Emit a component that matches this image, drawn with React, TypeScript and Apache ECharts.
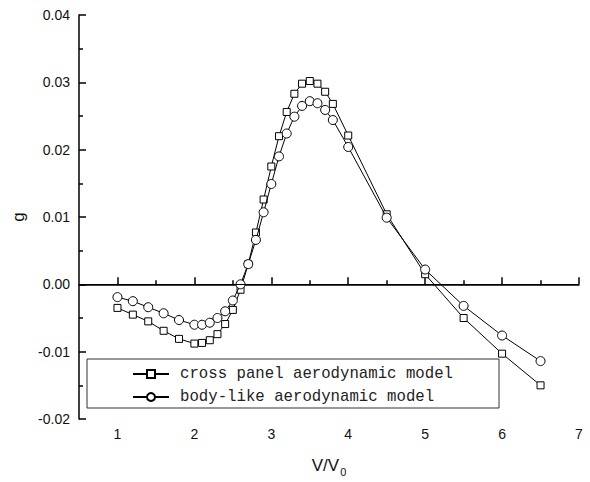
import React, { useEffect, useRef } from "react";
import * as echarts from "echarts";

const xCross = [1.0, 1.2, 1.4, 1.6, 1.8, 2.0, 2.1, 2.2, 2.3, 2.4, 2.5, 2.6, 2.7, 2.8, 2.9, 3.0, 3.1, 3.2, 3.3, 3.4, 3.5, 3.6, 3.7, 3.8, 4.0, 4.5, 5.0, 5.5, 6.0, 6.5];
const gCross = [-0.0035, -0.0045, -0.0055, -0.0069, -0.0081, -0.0088, -0.0087, -0.0083, -0.0074, -0.0059, -0.0038, -0.0008, 0.003, 0.0077, 0.0126, 0.0175, 0.022, 0.0256, 0.0283, 0.0298, 0.0302, 0.0298, 0.0286, 0.0268, 0.0221, 0.0104, 0.0015, -0.005, -0.0103, -0.015];

const xBody = [1.0, 1.2, 1.4, 1.6, 1.8, 2.0, 2.1, 2.2, 2.3, 2.4, 2.5, 2.6, 2.7, 2.8, 2.9, 3.0, 3.1, 3.2, 3.3, 3.4, 3.5, 3.6, 3.7, 3.8, 4.0, 4.5, 5.0, 5.5, 6.0, 6.5];
const gBody = [-0.0019, -0.0025, -0.0034, -0.0043, -0.0053, -0.006, -0.006, -0.0057, -0.005, -0.004, -0.0024, 0.0, 0.003, 0.0066, 0.0107, 0.0149, 0.019, 0.0224, 0.0249, 0.0265, 0.0272, 0.0269, 0.0259, 0.0244, 0.0204, 0.0099, 0.0022, -0.0032, -0.0076, -0.0114];

const seriesNames = ["cross panel aerodynamic model", "body-like aerodynamic model"];
const xMajorTicks = [1, 2, 3, 4, 5, 6, 7];
const xMinorTicks = [1.5, 2.5, 3.5, 4.5, 5.5, 6.5];
const yMinorTicks = [-0.015, -0.005, 0.005, 0.015, 0.025, 0.035];

const zip = (xs: number[], ys: number[]) => xs.map((x, i) => [x, ys[i]]);

export default function App() {
  const ref = useRef<HTMLDivElement>(null);
  useEffect(() => {
    if (!ref.current) return;
    const chart = echarts.init(ref.current, undefined, { renderer: "svg" });
    const sans = "Liberation Sans, Arial, sans-serif";
    const axisFont = { fontFamily: sans, fontSize: 14, color: "#111" };
    const tickLine = { color: "#000", width: 1.5 };
    chart.setOption({
      animation: false,
      backgroundColor: "#fff",
      grid: { left: 79, right: 11, top: 15, bottom: 59, containLabel: false },
      legend: {
        orient: "vertical",
        left: 87,
        top: 359,
        padding: [7, 46, 3, 45],
        itemGap: 7,
        itemWidth: 36,
        itemHeight: 10,
        borderColor: "#333",
        borderWidth: 1,
        backgroundColor: "#fff",
        data: seriesNames,
        textStyle: { fontFamily: "Liberation Mono, monospace", fontSize: 15.7, color: "#222", padding: [0, 0, 0, 6] },
      },
      xAxis: [
        {
          type: "value",
          min: 0.5,
          max: 7,
          position: "bottom",
          name: "V/V{s|0}",
          nameLocation: "middle",
          nameGap: 34,
          nameTextStyle: {
            fontFamily: sans,
            fontSize: 17,
            color: "#111",
            rich: { s: { fontSize: 11, padding: [13, 0, 0, 1], fontFamily: sans, color: "#111" } },
          },
          axisLine: { show: true, lineStyle: tickLine },
          axisTick: { show: true, inside: true, length: 7, customValues: xMajorTicks, lineStyle: tickLine },
          axisLabel: { show: true, margin: 8, customValues: xMajorTicks, formatter: (v: number) => String(v), ...axisFont },
          splitLine: { show: false },
        },
        {
          type: "value",
          min: 0.5,
          max: 7,
          position: "bottom",
          axisLine: { show: false },
          axisTick: { show: true, inside: true, length: 4, customValues: xMinorTicks, lineStyle: tickLine },
          axisLabel: { show: false },
          splitLine: { show: false },
        },
      ],
      yAxis: [
        {
          type: "value",
          min: -0.02,
          max: 0.04,
          interval: 0.01,
          position: "left",
          name: "g",
          nameLocation: "middle",
          nameGap: 50,
          nameTextStyle: { fontFamily: sans, fontSize: 17, color: "#111" },
          axisLine: { show: true, lineStyle: tickLine },
          axisTick: { show: true, inside: true, length: 7, lineStyle: tickLine },
          axisLabel: { margin: 9, formatter: (v: number) => v.toFixed(2), ...axisFont },
          splitLine: { show: false },
        },
        {
          type: "value",
          min: -0.02,
          max: 0.04,
          position: "left",
          axisLine: { show: false },
          axisTick: { show: true, inside: true, length: 4, customValues: yMinorTicks, lineStyle: tickLine },
          axisLabel: { show: false },
          splitLine: { show: false },
        },
      ],
      series: [
        {
          name: seriesNames[0],
          type: "line",
          xAxisIndex: 0,
          yAxisIndex: 0,
          data: zip(xCross, gCross),
          symbol: "rect",
          symbolSize: 7,
          showAllSymbol: true,
          itemStyle: { color: "#fff", borderColor: "#000", borderWidth: 1 },
          lineStyle: { color: "#000", width: 1 },
          markLine: {
            silent: true,
            symbol: ["none", "none"],
            label: { show: false },
            lineStyle: { color: "#000", width: 1.2, type: "solid" },
            data: [{ yAxis: 0 }],
          },
          z: 3,
        },
        {
          name: seriesNames[1],
          type: "line",
          xAxisIndex: 0,
          yAxisIndex: 0,
          data: zip(xBody, gBody),
          symbol: "circle",
          symbolSize: 9,
          showAllSymbol: true,
          itemStyle: { color: "#fff", borderColor: "#000", borderWidth: 1 },
          lineStyle: { color: "#000", width: 1 },
          z: 4,
        },
      ],
    });
    return () => chart.dispose();
  }, []);
  return <div ref={ref} style={{ position: "fixed", left: 0, top: 0, width: 590, height: 482 }} />;
}
